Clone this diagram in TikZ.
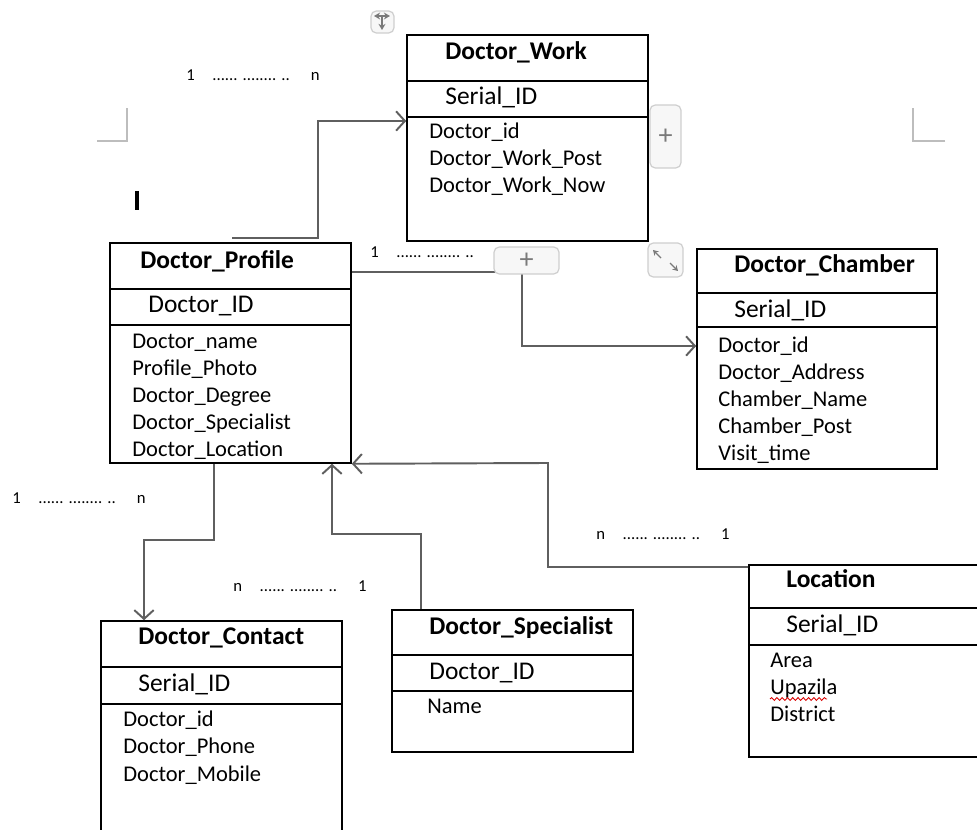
\documentclass[tikz,border=0pt]{standalone}
\usepackage{fontspec}
\setmainfont{Carlito}
\usetikzlibrary{positioning, arrows.meta, fit, calc, decorations.pathmorphing}
\definecolor{linkGray}{HTML}{5F5F5F}
\definecolor{uiLine}{HTML}{CFCFCF}
\definecolor{uiFill}{HTML}{F7F7F7}
\definecolor{uiGlyph}{HTML}{7A7A7A}
\definecolor{cornerGray}{HTML}{BDBDBD}

\begin{document}
\begin{tikzpicture}[
  x=0.02cm, y=-0.02cm,
  tbl/.style={draw=black, line width=0.9pt, inner sep=0pt},
  rowline/.style={black, line width=0.9pt},
  ttl/.style={font=\bfseries\fontsize{14.5}{17}\selectfont, anchor=base west, inner sep=0pt},
  keyrow/.style={font=\fontsize{14.5}{17}\selectfont, anchor=base west, inner sep=0pt},
  fields/.style={font=\fontsize{12.8}{15.5}\selectfont, align=left, anchor=base west, inner sep=0pt},
  link/.style={linkGray, line width=1.1pt, -{Straight Barb[length=5pt, width=11pt]}},
  card/.style={font=\fontsize{9.5}{11}\selectfont, anchor=base west, inner sep=0pt},
  uibtn/.style={draw=uiLine, fill=uiFill, rounded corners=3pt, line width=0.7pt, inner sep=0pt},
  uiglyph/.style={uiGlyph, line width=0.7pt},
]

\fill[white] (0,0) rectangle (977,830);
\useasboundingbox (0,0) rectangle (977,830);

% Tables (field blocks sit on their last line)
\node[tbl, fit={(407,35) (648,241)}] (work) {};
\draw[rowline] (work.west |- 0,81) -- (work.east |- 0,81);
\draw[rowline] (work.west |- 0,117) -- (work.east |- 0,117);
\node[ttl] (workT) at (445,60) {Doctor\_Work};
\node[keyrow] (workK) at (445,105) {Serial\_ID};
\node[fields] (workF) at (429,193) {Doctor\_id\\Doctor\_Work\_Post\\Doctor\_Work\_Now};

\node[tbl, fit={(110,243) (351,463)}] (profile) {};
\draw[rowline] (profile.west |- 0,289) -- (profile.east |- 0,289);
\draw[rowline] (profile.west |- 0,325) -- (profile.east |- 0,325);
\node[ttl] (profileT) at (140,269) {Doctor\_Profile};
\node[keyrow] (profileK) at (148,313) {Doctor\_ID};
\node[fields] (profileF) at (132,457) {Doctor\_name\\Profile\_Photo\\Doctor\_Degree\\Doctor\_Specialist\\Doctor\_Location};

\node[tbl, fit={(697,249) (937,469)}] (chamber) {};
\draw[rowline] (chamber.west |- 0,293) -- (chamber.east |- 0,293);
\draw[rowline] (chamber.west |- 0,327) -- (chamber.east |- 0,327);
\node[ttl] (chamberT) at (734,273) {Doctor\_Chamber};
\node[keyrow] (chamberK) at (734,318) {Serial\_ID};
\node[fields] (chamberF) at (718,461) {Doctor\_id\\Doctor\_Address\\Chamber\_Name\\Chamber\_Post\\Visit\_time};

\node[tbl, fit={(101,621) (342,845)}] (contact) {};
\draw[rowline] (contact.west |- 0,667) -- (contact.east |- 0,667);
\draw[rowline] (contact.west |- 0,704) -- (contact.east |- 0,704);
\node[ttl] (contactT) at (138,645) {Doctor\_Contact};
\node[keyrow] (contactK) at (138,692) {Serial\_ID};
\node[fields] (contactF) at (123,781) {Doctor\_id\\Doctor\_Phone\\Doctor\_Mobile};

\node[tbl, fit={(392,610) (633,752)}] (spec) {};
\draw[rowline] (spec.west |- 0,655) -- (spec.east |- 0,655);
\draw[rowline] (spec.west |- 0,691) -- (spec.east |- 0,691);
\node[ttl] (specT) at (429,635) {Doctor\_Specialist};
\node[keyrow] (specK) at (429,680) {Doctor\_ID};
\node[fields] (specF) at (427,713) {Name};

\node[tbl, fit={(749,565) (995,757)}] (loc) {};
\draw[rowline] (loc.west |- 0,608) -- (loc.east |- 0,608);
\draw[rowline] (loc.west |- 0,645) -- (loc.east |- 0,645);
\node[ttl] (locT) at (786,588) {Location};
\node[keyrow] (locK) at (786,633) {Serial\_ID};
\node[fields] (locF) at (770,722) {Area\\Upazila\\District};
\draw[red!85!black, line width=0.5pt, decorate, decoration={snake, amplitude=0.8pt, segment length=3pt}]
  (770,699) -- (827,699);

% Relations
\coordinate (pw) at (232,238);
\draw[link] (pw) -| (318,121) -- (work.west |- 0,121);
\draw[link] (profile.east |- 0,272) -| (522,346) -- (chamber.west |- 0,346);
\draw[link] (profile.south -| 214,0) |- (144,540) -- (contact.north -| 144,0);
\draw[link] (spec.north -| 421,0) |- (332,534) -- (profile.south -| 332,0);
\draw[link] (loc.west |- 0,567) -| (548,463) -- (profile.south east);

% Cardinalities
\node[card] (cardWork) at (186,81) {1\hspace{10pt}...... ........ ..\hspace{12pt}n};
\node[card] (cardChamber) at (370,258) {1\hspace{10pt}...... ........ ..};
\node[card] (cardContact) at (12,504) {1\hspace{10pt}...... ........ ..\hspace{12pt}n};
\node[card] (cardSpec) at (233,592) {n\hspace{10pt}...... ........ ..\hspace{12pt}1};
\node[card] (cardLoc) at (596,540) {n\hspace{10pt}...... ........ ..\hspace{12pt}1};

% Editor widgets
\node[uibtn, fit={(650,105) (681,168)}] (plusWork) {};
\node[font=\fontsize{16}{16}\selectfont, text=uiGlyph, inner sep=0pt] (plusWorkG) at (plusWork.center) {+};
\node[uibtn, fit={(494,247) (559,274)}] (plusLink) {};
\node[font=\fontsize{16}{16}\selectfont, text=uiGlyph, inner sep=0pt] (plusLinkG) at (plusLink.center) {+};
\node[uibtn, fit={(371,11) (394,33)}] (moveHandle) {};
\draw[uiglyph, {Stealth[length=3.5pt, width=4pt]}-{Stealth[length=3.5pt, width=4pt]}] (374,16) -- (390,16);
\draw[uiglyph, -{Stealth[length=3.5pt, width=4pt]}] (382,16) -- (382,30);
\node[uibtn, fit={(648,243) (683,277)}] (resizeHandle) {};
\draw[uiglyph, -{Stealth[length=3pt, width=3.5pt]}] (661,258) -- (653,250);
\draw[uiglyph, -{Stealth[length=3pt, width=3.5pt]}] (670,263) -- (678,271);

\draw[cornerGray, line width=0.7pt] (97,141) -| (127,108);
\draw[cornerGray, line width=0.7pt] (945,141) -| (913,108);
\draw[black, line width=2pt] (137,191) -- (137,210);

\end{tikzpicture}
\end{document}
